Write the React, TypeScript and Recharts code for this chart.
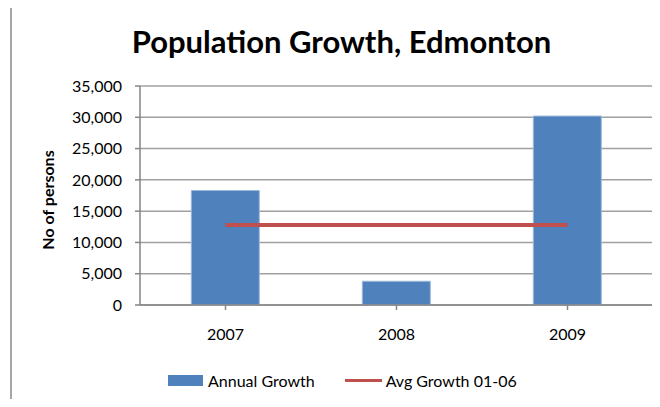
import React from "react";
import {
  ComposedChart,
  Bar,
  Line,
  XAxis,
  YAxis,
  CartesianGrid,
} from "recharts";

const YEARS = ["2007", "2008", "2009"];
const ANNUAL_GROWTH = [18300, 3800, 30200];
const AVG_GROWTH = [12800, 12800, 12800];
const Y_TICKS = [0, 5000, 10000, 15000, 20000, 25000, 30000, 35000];

const BAR_COLOR = "#4F81BD";
const LINE_COLOR = "#C0504D";
const FONT = "Lato, 'Open Sans', sans-serif";

const data = YEARS.map((year, i) => ({
  year,
  annual: ANNUAL_GROWTH[i],
  avg: AVG_GROWTH[i],
}));

const fmt = (v: number) => v.toLocaleString("en-US");

export default function App() {
  return (
    <div
      style={{
        position: "relative",
        width: 660,
        height: 407,
        margin: -8,
        fontFamily: FONT,
        background: "#fff",
        overflow: "hidden",
      }}
    >
      <div
        style={{
          position: "absolute",
          left: 10,
          top: 6,
          width: 700,
          height: 450,
          borderLeft: "2px solid #a6a6a6",
          borderTop: "2px solid #a6a6a6",
        }}
      />
      <div
        style={{
          position: "absolute",
          left: 0,
          width: 683,
          top: 22,
          textAlign: "center",
          fontSize: 31,
          fontWeight: 700,
          color: "#000",
        }}
      >
        Population Growth, Edmonton
      </div>
      <div
        style={{
          position: "absolute",
          left: 47,
          top: 200,
          transform: "translate(-50%, -50%) rotate(-90deg)",
          fontSize: 16,
          fontWeight: 700,
          whiteSpace: "nowrap",
          color: "#000",
        }}
      >
        No of persons
      </div>
      <div style={{ position: "absolute", left: 0, top: 0 }}>
        <ComposedChart
          width={660}
          height={407}
          data={data}
          margin={{ top: 86, right: 7, bottom: 72, left: 0 }}
          barCategoryGap="30%"
        >
          <CartesianGrid
            vertical={false}
            stroke="#a0a0a0"
            strokeWidth={1.5}
          />
          <XAxis
            dataKey="year"
            height={30}
            tickSize={5}
            tickMargin={19}
            stroke="#868686"
            strokeWidth={1.5}
            tick={{ fill: "#000", fontSize: 16, fontFamily: FONT }}
            interval={0}
          />
          <YAxis
            width={140}
            domain={[0, 35000]}
            ticks={Y_TICKS}
            tickFormatter={fmt}
            tickSize={5}
            tickMargin={13}
            stroke="#868686"
            strokeWidth={1.5}
            tick={{ fill: "#000", fontSize: 16, fontFamily: FONT }}
            interval={0}
          />
          <Bar
            dataKey="annual"
            fill={BAR_COLOR}
            stroke="#9fbadb"
            strokeWidth={1}
            isAnimationActive={false}
          />
          <Line
            dataKey="avg"
            stroke={LINE_COLOR}
            strokeWidth={4}
            dot={false}
            activeDot={false}
            isAnimationActive={false}
          />
        </ComposedChart>
      </div>
      <div
        style={{
          position: "absolute",
          top: 371,
          left: 168,
          display: "flex",
          alignItems: "center",
          fontSize: 16,
          color: "#000",
        }}
      >
        <span
          style={{
            display: "inline-block",
            width: 35,
            height: 11,
            background: BAR_COLOR,
            marginRight: 5,
          }}
        />
        <span>Annual Growth</span>
        <span
          style={{
            display: "inline-block",
            width: 37,
            height: 3,
            background: LINE_COLOR,
            marginLeft: 30,
            marginRight: 4,
          }}
        />
        <span>Avg Growth 01-06</span>
      </div>
    </div>
  );
}
